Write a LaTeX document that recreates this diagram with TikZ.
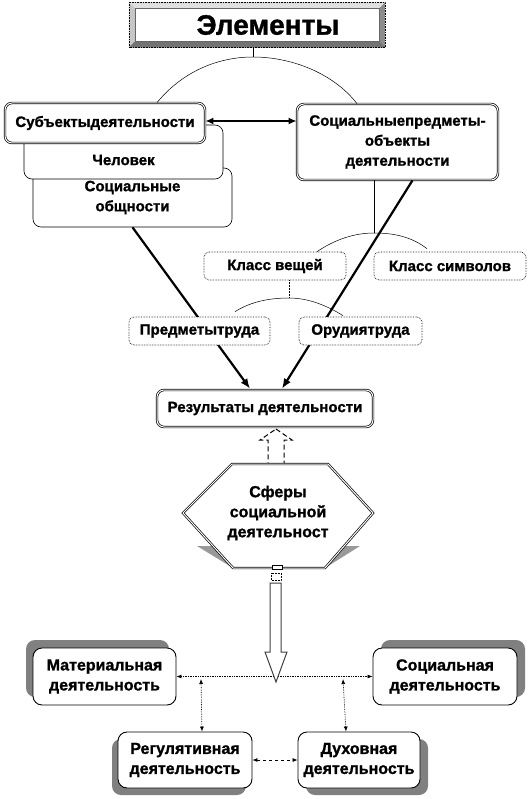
\documentclass[tikz,border=0pt]{standalone}
\usepackage{fontspec}
\setmainfont{Liberation Sans}[BoldFeatures={FakeBold=1.2}]
\usetikzlibrary{arrows.meta,calc,shadows}
\tikzset{
 lab/.style={font=\bfseries\fontsize{15}{20}\selectfont, align=center, inner sep=0pt},
 labbig/.style={font=\bfseries\fontsize{16}{20}\selectfont, align=center, inner sep=0pt},
 rbox/.style={draw=black, fill=white, rounded corners=6pt, line width=0.6pt},
 dblbox/.style={rbox, lab, double=white, double distance=1pt, line width=0.7pt, rounded corners=7pt},
 dotbox/.style={rbox, lab, densely dotted, line width=0.7pt, rounded corners=5pt},
 plainbox/.style={rbox, lab, rounded corners=8pt},
 shbox/.style={rbox, labbig, rounded corners=9pt, line width=0.9pt},
 arcline/.style={line width=0.5pt},
 bigarrow/.style={line width=2.2pt, -{Latex[length=10pt,width=8pt]}},
 dotarrow/.style={line width=0.7pt, densely dotted, {Latex[length=5pt,width=4pt]}-{Latex[length=5pt,width=4pt]}},
 dasharrow/.style={line width=0.7pt, dashed, {Latex[length=5pt,width=4pt]}-{Latex[length=5pt,width=4pt]}},
}
\begin{document}
\begin{tikzpicture}[x=1pt,y=-1pt]
\useasboundingbox (0,0) rectangle (529,799);
\fill[white] (0,0) rectangle (529,799);

% ---- title with bevel
\node[minimum width=256pt, minimum height=45pt, inner sep=0pt, fill=black!35] (title) at (257,25) {};
\fill[black!12] (title.north west) -- (title.north east) -- ($(title.north east)+(-6,6)$) -- ($(title.north west)+(6,6)$) -- cycle;
\fill[black!22] (title.north west) -- ($(title.north west)+(6,6)$) -- ($(title.south west)+(6,-6)$) -- (title.south west) -- cycle;
\fill[black!45] (title.north east) -- (title.south east) -- ($(title.south east)+(-6,-6)$) -- ($(title.north east)+(-6,6)$) -- cycle;
\fill[black!55] (title.south west) -- (title.south east) -- ($(title.south east)+(-6,-6)$) -- ($(title.south west)+(6,-6)$) -- cycle;
\draw[fill=white, draw=black!60, line width=0.4pt] ($(title.north west)+(6,6)$) rectangle ($(title.south east)+(-6,-6)$);
\draw[densely dotted, line width=0.6pt] (title.north west) rectangle (title.south east);
\node[font=\bfseries\fontsize{28}{30}\selectfont, inner sep=0pt] (titletext) at (268,25) {Элементы};

% ---- top arc
\coordinate (pk1) at (253,57);
\draw[arcline] ($(title.south)+(-4,0)$) -- (pk1);

% left boxes (back to front)
\node[plainbox, minimum width=199pt, minimum height=59pt] (obsh) at (132.5,197.5) {Социальные\\общности};
\node[plainbox, minimum width=199pt, minimum height=54pt] (chel) at (123.5,152) {};
\node[lab] (cheltext) at (123.5,160) {Человек};
\node[dblbox, minimum width=200pt, minimum height=40pt] (subj) at (105,123) {Субъектыдеятельности};
\node[dblbox, minimum width=201pt, minimum height=76pt] (pred) at (397.5,142) {Социальныепредметы-\\объекты\\деятельности};

\draw[arcline] ($(subj.north)+(52,0)$) .. controls (180.6,73.6) and (215.3,57) .. (pk1)
   .. controls (291.7,57) and (333.5,73.3) .. ($(pred.north)+(-40.5,0)$);

\coordinate (se) at ($(subj.east)+(0,-2)$);
\draw[line width=2pt, {Latex[length=8pt,width=7pt]}-{Latex[length=8pt,width=7pt]}] (se) -- (se -| pred.west);

% ---- class arc
\coordinate (pk2) at (374,233);
\draw[arcline] ($(pred.south)+(-23.5,0)$) -- (pk2);
\node[dotbox, minimum width=142pt, minimum height=28pt] (kv) at (275,266) {Класс вещей};
\node[dotbox, minimum width=152pt, minimum height=28pt] (ks) at (450,266) {Класс символов};
\draw[arcline] ($(kv.north)+(42,0)$) .. controls (334.7,239.7) and (354.1,233) .. (pk2)
   .. controls (393.9,233) and (411.3,236.7) .. ($(ks.north)+(-23,-3)$);

% ---- tools arc
\coordinate (pk3) at (289,298);
\draw[arcline, densely dotted] ($(kv.south)+(14,0)$) -- (pk3);

% ---- result node and thick arrows
\node[dblbox, minimum width=216pt, minimum height=37pt] (res) at (265,408.5) {Результаты деятельности};
\draw[bigarrow] (obsh.south) -- ($(res.north)+(-15,-1)$);
\draw[bigarrow] ($(pred.south)+(15,0)$) -- ($(res.north)+(17,-1)$);

\node[dotbox, minimum width=141pt, minimum height=28pt] (pt) at (199.5,331) {Предметытруда};
\node[dotbox, minimum width=123pt, minimum height=28pt] (ot) at (360.5,331) {Орудиятруда};
\draw[arcline] ($(pt.north)+(35.5,-5)$) .. controls (251.1,301.5) and (269.8,298) .. (pk3)
   .. controls (308.2,298) and (326.9,305.5) .. ($(ot.north)+(-17.5,-1)$);

% ---- dashed hollow arrow up
\draw[dash pattern=on 5pt off 3pt, line width=1pt, fill=white]
  (276,429) -- (292,440) -- (284,440) -- (284,464) -- (268,464) -- (268,440) -- (260,440) -- cycle;

% ---- hexagon
\fill[black!40] (197,546) -- (360,546) -- (325,568) -- (233,568) -- cycle;
\draw[fill=white, double=white, double distance=1pt, line width=0.7pt]
  (183,513) -- (232,464) -- (328,464) -- (373,513) -- (325,568) -- (233,568) -- cycle;
\node[labbig] (hex) at (278,513) {Сферы\\социальной\\деятельност};
\draw[line width=0.5pt, fill=white] (272,565) rectangle (282,569);
\draw[line width=0.5pt, densely dotted, fill=white] (271,573) rectangle (281,580);

% ---- bottom boxes
\node[shbox, minimum width=143pt, minimum height=57pt,
  drop shadow={shadow xshift=-7pt, shadow yshift=8pt, fill=black!50, opacity=1}] (mat) at (104.5,676.5) {Материальная\\деятельность};
\node[shbox, minimum width=144pt, minimum height=57pt,
  drop shadow={shadow xshift=8pt, shadow yshift=8pt, fill=black!50, opacity=1}] (soc) at (445,676.5) {Социальная\\деятельность};
\node[shbox, minimum width=134pt, minimum height=56pt,
  drop shadow={shadow xshift=-6pt, shadow yshift=-7pt, fill=black!50, opacity=1}] (reg) at (185,760) {Регулятивная\\деятельность};
\node[shbox, minimum width=122pt, minimum height=56pt,
  drop shadow={shadow xshift=8pt, shadow yshift=-7pt, fill=black!50, opacity=1}] (duh) at (359,760) {Духовная\\деятельность};

\draw[dotarrow] (mat.east) -- (soc.west);
\coordinate (v1) at (201,679);
\coordinate (v2) at (343,679);
\draw[dotarrow] (v1) -- ($(reg.north)+(17,0)$);
\draw[dotarrow] (v2) -- ($(duh.north)+(-13,0)$);
\draw[dasharrow] (reg.east) -- (duh.west);

% ---- big hollow arrow down
\draw[line width=1pt, draw=black!75, fill=white]
  (270,583) -- (281,583) -- (281,652) -- (287,652) -- (276,682) -- (265,652) -- (270,652) -- cycle;
\end{tikzpicture}
\end{document}
